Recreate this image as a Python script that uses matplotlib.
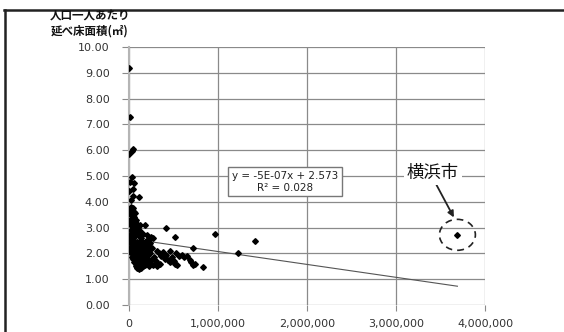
import matplotlib
matplotlib.use("Agg")
import matplotlib.pyplot as plt
from matplotlib.patches import Ellipse
from matplotlib.lines import Line2D
from matplotlib.ticker import FuncFormatter

# --- データ (x: 人口[千人], y: 人口一人あたり延べ床面積) ---
pop_k = [
    # 外れ値
    0, 10, 5, 30, 50, 30, 60, 0, 115, 25, 45, 15, 40,
    # 上側の縦列
    5, 15, 25, 35, 45, 55, 20, 40, 60, 70, 10, 30, 50, 80, 15, 35, 65, 90,
    120, 180, 100, 25, 55, 45,
    # 中段
    5, 20, 40, 60, 80, 100, 120, 140, 160, 200, 230, 250, 270,
    10, 30, 50, 70, 90, 110, 130, 150, 170, 190, 210, 240,
    5, 25, 45, 65, 85, 105, 125, 145, 165, 185, 205, 225, 260,
    15, 35, 55, 75, 95, 115, 135, 155, 175, 195, 215, 235,
    # 下段
    30, 50, 70, 90, 110, 130, 150, 170, 190, 210, 230, 250, 270,
    60, 80, 100, 120, 140, 160, 180, 200, 220, 95, 115, 135, 75, 280, 300,
    # 30万〜80万
    320, 340, 360, 380, 400, 420, 440, 460, 480, 500, 520, 540, 560,
    590, 620, 650, 680, 700, 720, 740, 350, 310, 460, 530,
    # 大都市
    416, 517, 966, 715, 835, 1230, 1416, 3690,
]
floor_area = [
    9.20, 7.28, 5.87, 5.97, 6.03, 4.97, 4.72, 4.40, 4.19, 4.08, 4.48, 4.78, 4.24,
    3.65, 3.72, 3.78, 3.70, 3.75, 3.60, 3.50, 3.45, 3.40, 3.55, 3.30, 3.25, 3.20, 3.30, 3.15, 3.05, 3.10, 3.15,
    3.12, 3.10, 2.95, 2.90, 2.85, 3.00,
    2.70, 2.60, 2.75, 2.65, 2.80, 2.70, 2.85, 2.60, 2.75, 2.70, 2.55, 2.65, 2.60,
    2.45, 2.40, 2.50, 2.35, 2.45, 2.30, 2.50, 2.40, 2.35, 2.50, 2.30, 2.40,
    2.20, 2.25, 2.15, 2.20, 2.10, 2.20, 2.15, 2.25, 2.10, 2.20, 2.05, 2.15, 2.20,
    2.05, 2.00, 2.05, 1.95, 2.00, 1.90, 2.00, 1.95, 2.05, 1.90, 1.95, 2.00,
    1.85, 1.80, 1.75, 1.85, 1.70, 1.80, 1.65, 1.75, 1.70, 1.80, 1.60, 1.75, 1.55,
    1.65, 1.60, 1.55, 1.50, 1.60, 1.50, 1.55, 1.60, 1.50, 1.42, 1.38, 1.45, 1.50, 1.85, 1.70,
    2.10, 2.00, 1.90, 2.05, 1.80, 1.95, 1.75, 2.10, 1.85, 1.70, 1.60, 1.55, 1.90,
    1.95, 1.85, 1.90, 1.75, 1.65, 1.55, 1.60, 1.60, 1.50, 1.65, 2.00,
    2.98, 2.62, 2.74, 2.20, 1.46, 2.03, 2.48, 2.72,
]

# 近似直線 (Excel の表示値)
slope = -5e-7
intercept = 2.573
r2 = 0.028

yokohama = (3690000, 2.72)

x_ticks = [0, 1000000, 2000000, 3000000, 4000000]
y_ticks = [0, 1, 2, 3, 4, 5, 6, 7, 8, 9, 10]

grid_col = "#8a8a8a"
cjk = ["Noto Sans CJK JP", "DejaVu Sans"]

fig = plt.figure(figsize=(5.64, 3.32), dpi=100)
ax = fig.add_axes([129 / 564, 27 / 332, 356 / 564, 258 / 332])

xs = [v * 1000 for v in pop_k]
ax.plot(xs, floor_area, linestyle="none", marker="D", markersize=2.9,
        color="black", zorder=3)

# 近似直線
x0, x1 = 0, max(xs)
ax.plot([x0, x1], [intercept + slope * x0, intercept + slope * x1],
        color="#555555", linewidth=0.8, zorder=2)

ax.set_xlim(0, 4000000)
ax.set_ylim(0, 10)
ax.set_xticks(x_ticks)
ax.set_yticks(y_ticks)
ax.xaxis.set_major_formatter(FuncFormatter(lambda v, p: f"{int(v):,}"))
ax.yaxis.set_major_formatter(FuncFormatter(lambda v, p: f"{v:.2f}"))

ax.grid(True, color=grid_col, linewidth=0.9, zorder=0)
ax.set_axisbelow(True)
for s in ["top", "right", "bottom"]:
    ax.spines[s].set_visible(False)
ax.spines["left"].set_color("#b5b5b5")
ax.spines["left"].set_linewidth(1.5)
ax.tick_params(axis="y", length=5, color=grid_col, labelsize=8,
               labelcolor="#333333", pad=9)
ax.tick_params(axis="x", length=4, color=grid_col, labelsize=8,
               labelcolor="#333333", pad=6)

# 式ラベル
ax.text(1.753e6, 4.77, f"y = -5E-07x + 2.573\nR² = {r2:.3f}",
        ha="center", va="center", fontsize=7.5, color="#222222",
        multialignment="center", zorder=4,
        bbox=dict(boxstyle="square,pad=0.35", facecolor="white",
                  edgecolor="#777777", linewidth=1.0))

# 横浜市
ax.add_patch(Ellipse(yokohama, 0.404e6, 1.2, fill=False, edgecolor="#222222",
                     linestyle=(0, (4, 3)), linewidth=1.2, zorder=4))
ax.annotate("", xy=(3.665e6, 3.3), xytext=(3.44e6, 4.75),
            arrowprops=dict(arrowstyle="-|>", color="#222222", lw=1.3,
                            mutation_scale=9), zorder=4)
ax.text(3.416e6, 5.12, "横浜市", family=cjk, fontsize=12.5, color="#111111",
        ha="center", va="center", zorder=4,
        bbox=dict(boxstyle="square,pad=0.15", facecolor="white",
                  edgecolor="none"))

# 軸タイトル
fig.text(90 / 564, 1 - 24 / 332, "人口一人あたり\n延べ床面積(㎡)", family=cjk,
         fontsize=8.3, fontweight="bold", ha="center", va="center",
         linespacing=1.2, color="#111111")

# 外枠
fig.add_artist(Line2D([4 / 564, 1], [1 - 10 / 332, 1 - 10 / 332],
                      transform=fig.transFigure, color="#222222", linewidth=1.8))
fig.add_artist(Line2D([5 / 564, 5 / 564], [0, 1 - 10 / 332],
                      transform=fig.transFigure, color="#222222", linewidth=1.8))

fig.savefig("out.png", dpi=100)
